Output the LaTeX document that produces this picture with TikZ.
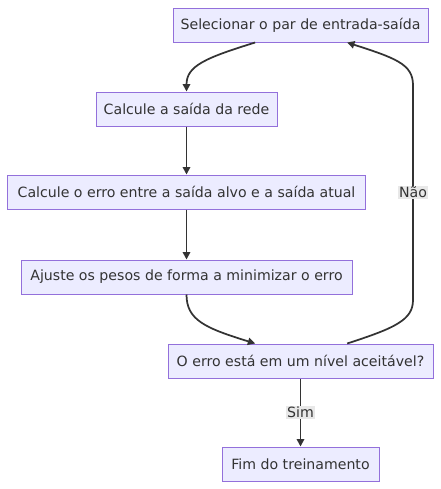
\documentclass[tikz,border=0pt]{standalone}
\usepackage{fontspec}
\setmainfont{DejaVu Sans}
\usetikzlibrary{arrows.meta,calc,positioning}
\definecolor{BoxFill}{HTML}{ECECFF}
\definecolor{BoxLine}{HTML}{9370DB}
\definecolor{InkGray}{HTML}{333333}
\definecolor{TagGray}{HTML}{E8E8E8}
\tikzset{
  stepbox/.style={draw=BoxLine,fill=BoxFill,text=InkGray,line width=0.75pt,
    minimum height=25.5pt,inner xsep=0pt,font=\fontsize{10.6}{13}\selectfont},
  flow/.style={draw=InkGray,line width=1.3pt,-{Triangle[length=5.5pt,width=5.5pt]}},
  tag/.style={fill=TagGray,text=InkGray,inner sep=1pt,font=\fontsize{10.6}{13}\selectfont}
}
\begin{document}
\begin{tikzpicture}[x=0.75pt,y=-0.75pt]
      \useasboundingbox (0,0) rectangle (441,489);
      \node[stepbox,minimum width=191.25pt] (sel) at (300.5,25) {Selecionar o par de entrada-saída};
      \node[stepbox,minimum width=135.75pt] (rede) at (186.5,109) {Calcule a saída da rede};
      \node[stepbox,minimum width=268.5pt] (calc) at (186.5,192) {Calcule o erro entre a saída alvo e a saída atual};
      \node[stepbox,minimum width=248.25pt] (ajuste) at (186.5,277) {Ajuste os pesos de forma a minimizar o erro};
      \node[stepbox,minimum width=198.75pt] (nivel) at (300.5,361) {O erro está em um nível aceitável?};
      \node[stepbox,minimum width=117.75pt] (fim) at (300.5,464) {Fim do treinamento};
      % return path on the right
      \coordinate (lo) at (413,300);
      \coordinate (hi) at (413,85);
      \draw[flow] ([xshift=-34pt]sel.south) .. controls (205,58) and (186.5,66) .. (rede.north);
      \draw[flow] (rede) -- (calc);
      \draw[flow] (calc) -- (ajuste);
      \draw[flow] (ajuste.south) .. controls (186.5,320) and (205,328) .. ([xshift=-34pt]nivel.north);
      \draw[flow] ([xshift=35pt]nivel.north) .. controls (395,328) and (413,320) .. (lo)
        -- node[tag]{Não} (hi) .. controls (413,64) and (395,58) .. ([xshift=35pt]sel.south);
      \draw[flow] (nivel) -- node[tag]{Sim} (fim);
    \end{tikzpicture}
\end{document}
